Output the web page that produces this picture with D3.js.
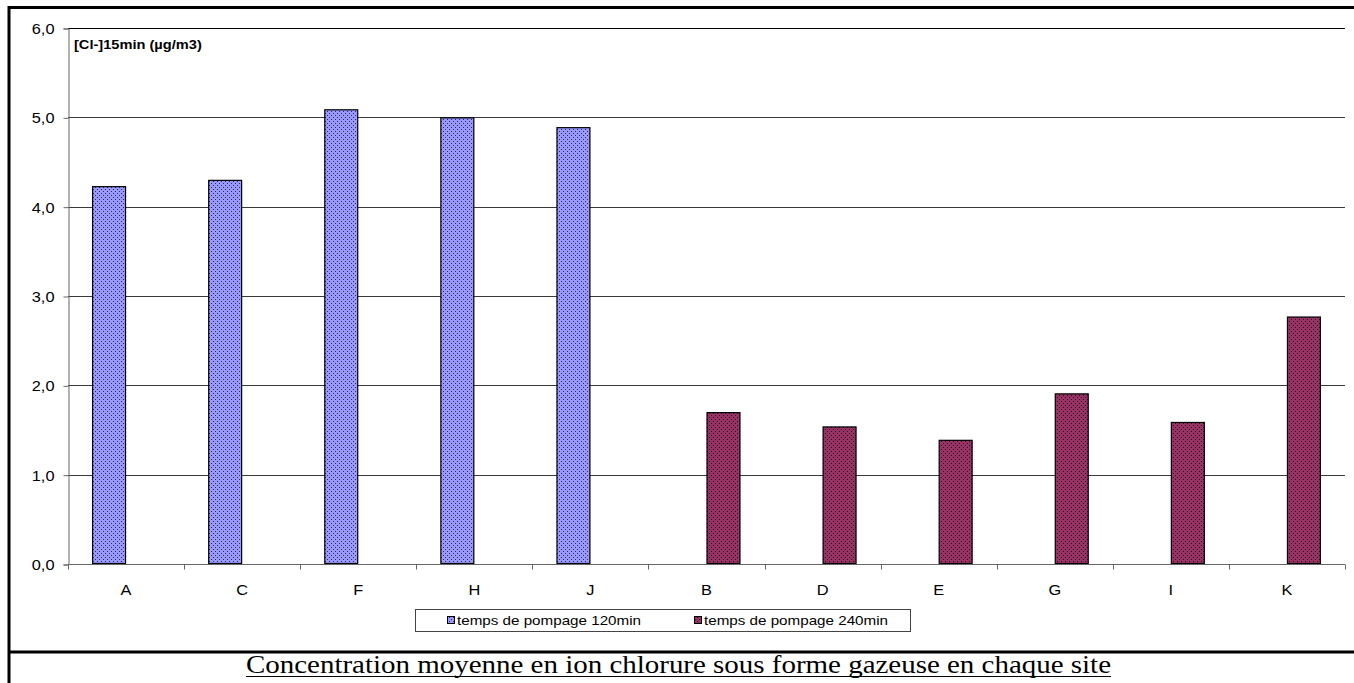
<!DOCTYPE html>
<html>
<head>
<meta charset="utf-8">
<script src="https://cdn.jsdelivr.net/npm/d3@7"></script>
<style>
  html, body { margin: 0; padding: 0; background: #fff; }
  svg { display: block; }
</style>
</head>
<body>
<svg id="chart" width="1354" height="683"></svg>
<script>
// Sites, in display order
const categories = ["A", "C", "F", "H", "J", "B", "D", "E", "G", "I", "K"];
// Mean gaseous chloride concentration per site (µg/m3), by pumping time
const series120 = [4.23, 4.30, 5.09, 5.00, 4.89, null, null, null, null, null, null];
const series240 = [null, null, null, null, null, 1.70, 1.54, 1.39, 1.91, 1.59, 2.77];
const seriesNames = ["temps de pompage 120min", "temps de pompage 240min"];
const yTicks = [0, 1, 2, 3, 4, 5, 6];

const svg = d3.select("#chart");
const W = 1354, H = 683;
const plot = { left: 68, right: 1345, top: 28, bottom: 564 };
const SANS = "Liberation Sans, Arial, sans-serif";
const SX = 1.17; // horizontal stretch of the sans-serif labels

// Dotted fills
const defs = svg.append("defs");
function dotPattern(id, base, dot) {
  const p = defs.append("pattern").attr("id", id)
    .attr("patternUnits", "userSpaceOnUse").attr("width", 4).attr("height", 4);
  p.append("rect").attr("width", 4).attr("height", 4).attr("fill", base);
  p.append("rect").attr("x", 1).attr("y", 1).attr("width", 1).attr("height", 1).attr("fill", dot);
  p.append("rect").attr("x", 3).attr("y", 3).attr("width", 1).attr("height", 1).attr("fill", dot);
}
dotPattern("dotsBlue", "#9999FF", "#2a2a55");
dotPattern("dotsRed", "#993366", "#2a0c1c");
const fills = ["url(#dotsBlue)", "url(#dotsRed)"];

// Stretched text helper: places text so its anchor sits at (x, y)
function stretched(sel, x, y) {
  sel.attr("x", x / SX).attr("y", y).attr("transform", `scale(${SX},1)`);
}

// Outer frame
svg.append("line").attr("x1", 8).attr("x2", W).attr("y1", 7.5).attr("y2", 7.5)
  .attr("stroke", "#000").attr("stroke-width", 3);
svg.append("line").attr("x1", 9).attr("x2", 9).attr("y1", 6).attr("y2", H)
  .attr("stroke", "#000").attr("stroke-width", 3);
svg.append("line").attr("x1", 8).attr("x2", W).attr("y1", 652).attr("y2", 652)
  .attr("stroke", "#000").attr("stroke-width", 3);

// Scales
const x = d3.scaleBand().domain(categories).range([plot.left, plot.right]).paddingInner(0).paddingOuter(0);
const y = d3.scaleLinear().domain([0, 6]).range([plot.bottom, plot.top]);
const clusterWidth = x.bandwidth() * 0.585;
const xs = d3.scaleBand().domain([0, 1]).range([0, clusterWidth]);

// Gridlines
svg.append("g").selectAll("line").data(yTicks.filter(d => d > 0)).join("line")
  .attr("x1", plot.left).attr("x2", plot.right)
  .attr("y1", d => Math.round(y(d)) + 0.5).attr("y2", d => Math.round(y(d)) + 0.5)
  .attr("stroke", d => d === 6 ? "#000" : "#3a3a3a").attr("stroke-width", 1);

// Y axis
const yAxis = d3.axisLeft(y).tickValues(yTicks).tickSize(5).tickPadding(0)
  .tickFormat(d => d3.format(".1f")(d).replace(".", ","));
const gy = svg.append("g").attr("transform", `translate(${plot.left + 0.5},0.5)`).call(yAxis);
gy.select(".domain").attr("stroke", "#666");
gy.selectAll(".tick line").attr("stroke", "#666");
gy.selectAll(".tick text").attr("font-family", SANS).attr("font-size", 14).attr("fill", "#000")
  .attr("dy", "0.35em")
  .each(function () { stretched(d3.select(this), -14, 0); });

// Bars
const data = [series120, series240];
data.forEach((vals, si) => {
  svg.append("g").selectAll("rect")
    .data(categories.map((c, i) => ({ c, v: vals[i] })).filter(d => d.v != null))
    .join("rect")
    .attr("x", d => x(d.c) + x.bandwidth() / 2 - clusterWidth / 2 + xs(si) + 0.5)
    .attr("width", xs.bandwidth() - 1)
    .attr("y", d => y(d.v) + 0.5)
    .attr("height", d => y(0) - y(d.v) - 1)
    .attr("fill", fills[si])
    .attr("stroke", "#000").attr("stroke-width", 1.2);
});

// X axis with ticks between categories
const gx = svg.append("g").attr("transform", `translate(0,${plot.bottom + 0.5})`);
gx.append("line").attr("x1", plot.left).attr("x2", plot.right).attr("stroke", "#666");
const boundaries = categories.map(c => x(c)).concat([plot.right]);
gx.selectAll("line.tk").data(boundaries).join("line").attr("class", "tk")
  .attr("x1", d => Math.round(d) + 0.5).attr("x2", d => Math.round(d) + 0.5)
  .attr("y1", 0).attr("y2", 5).attr("stroke", "#666");
gx.selectAll("text").data(categories).join("text")
  .attr("text-anchor", "middle")
  .attr("font-family", SANS).attr("font-size", 14)
  .text(d => d)
  .each(function (d) { stretched(d3.select(this), x(d) + x.bandwidth() / 2, 31); });

// Axis title inside the plot
svg.append("text")
  .attr("font-family", SANS).attr("font-size", 12.5)
  .attr("font-weight", "bold").text("[Cl-]15min (µg/m3)")
  .call(s => stretched(s, 74, 49));

// Legend
const lg = svg.append("g");
lg.append("rect").attr("x", 415.5).attr("y", 609.5).attr("width", 495).attr("height", 22)
  .attr("fill", "#fff").attr("stroke", "#444");
const legendX = [447, 694];
seriesNames.forEach((name, i) => {
  lg.append("rect").attr("x", legendX[i] + 0.5).attr("y", 616.5).attr("width", 7).attr("height", 7)
    .attr("fill", fills[i]).attr("stroke", "#000");
  lg.append("text")
    .attr("font-family", SANS).attr("font-size", 13)
    .text(name)
    .call(s => stretched(s, legendX[i] + 10, 625));
});

// Caption
const capX0 = 246, capX1 = 1111;
svg.append("text").attr("x", capX0).attr("y", 673)
  .attr("font-family", "Liberation Serif, Times New Roman, serif").attr("font-size", 25)
  .attr("textLength", capX1 - capX0).attr("lengthAdjust", "spacingAndGlyphs")
  .text("Concentration moyenne en ion chlorure sous forme gazeuse en chaque site");
svg.append("line").attr("x1", capX0).attr("x2", capX1).attr("y1", 676.5).attr("y2", 676.5)
  .attr("stroke", "#000").attr("stroke-width", 1);
</script>
</body>
</html>
